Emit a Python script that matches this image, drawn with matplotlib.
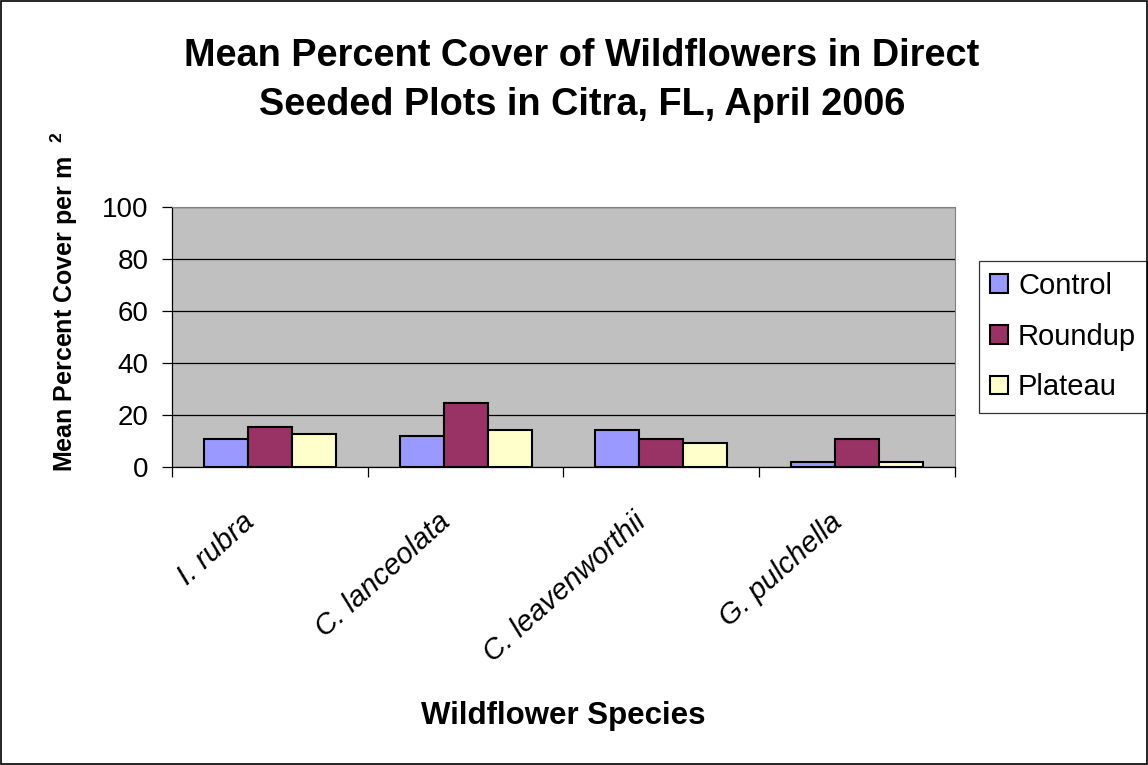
import numpy as np
import matplotlib.pyplot as plt
from matplotlib.patches import Rectangle
from matplotlib.transforms import ScaledTranslation

plt.rcParams['font.family'] = ['Liberation Sans', 'DejaVu Sans']
plt.rcParams['mathtext.fontset'] = 'custom'
plt.rcParams['mathtext.bf'] = 'Liberation Sans:bold'

species = ["I. rubra", "C. lanceolata", "C. leavenworthii", "G. pulchella"]
control = [10.7, 11.8, 14.4, 1.9]
roundup = [15.4, 24.5, 10.7, 10.7]
plateau = [12.7, 14.4, 9.1, 1.8]

series = [("Control", control, "#9999FF"),
          ("Roundup", roundup, "#993366"),
          ("Plateau", plateau, "#FFFFCC")]

fig = plt.figure(figsize=(11.48, 7.65), dpi=100)
ax = fig.add_axes([0.1498, 0.3895, 0.682, 0.340])
ax.set_facecolor("#C0C0C0")

x = np.arange(len(species))
w = 0.225
for i, (name, vals, col) in enumerate(series):
    ax.bar(x + (i - 1) * w, vals, w, color=col, edgecolor="black",
           linewidth=1.5, label=name, zorder=3)

ax.set_xlim(-0.5, len(species) - 0.5)
ax.set_ylim(0, 100)
ax.set_yticks(range(0, 101, 20))
ax.yaxis.grid(True, color="black", linewidth=0.9, zorder=0)
ax.tick_params(axis="y", labelsize=20, length=7, direction="out", width=0.9, pad=10)

# category labels, rotated, right end just left of the group centre
ax.set_xticks(x)
ax.set_xticklabels(species, rotation=42, ha="right", va="center",
                   rotation_mode="anchor", style="italic", fontsize=21)
ax.tick_params(axis="x", length=0, pad=37)
shift = ScaledTranslation(-0.19, 0, fig.dpi_scale_trans)
for lbl in ax.get_xticklabels():
    lbl.set_transform(lbl.get_transform() + shift)
ax.set_xticks(np.arange(-0.5, len(species)), minor=True)
ax.tick_params(axis="x", which="minor", length=7, width=0.9)

for s in ["top", "right"]:
    ax.spines[s].set_color("#808080")
for s in ["left", "bottom"]:
    ax.spines[s].set_linewidth(0.9)

fig.text(0.507, 0.895, "Mean Percent Cover of Wildflowers in Direct\nSeeded Plots in Citra, FL, April 2006",
         ha="center", va="center", fontsize=27.3, fontweight="bold", linespacing=1.45)
fig.text(0.056, 0.605, r"Mean Percent Cover per m  $^\mathbf{2}$", rotation=90,
         ha="center", va="center", fontsize=18, fontweight="bold")
fig.text(0.491, 0.064, "Wildflower Species", ha="center", va="center",
         fontsize=22.5, fontweight="bold")

leg = ax.legend(loc="upper left", bbox_to_anchor=(0.853, 0.659),
                bbox_transform=fig.transFigure, fontsize=21, frameon=True,
                fancybox=False, edgecolor="black", handlelength=0.6,
                handleheight=0.6, handletextpad=0.35, labelspacing=0.78,
                borderpad=0.38, borderaxespad=0)
leg.get_frame().set_linewidth(0.9)

fig.patches.append(Rectangle((0.001, 0.001), 0.998, 0.998, transform=fig.transFigure,
                             fill=False, edgecolor="black", linewidth=1.2))

fig.savefig("out.png", dpi=100)
